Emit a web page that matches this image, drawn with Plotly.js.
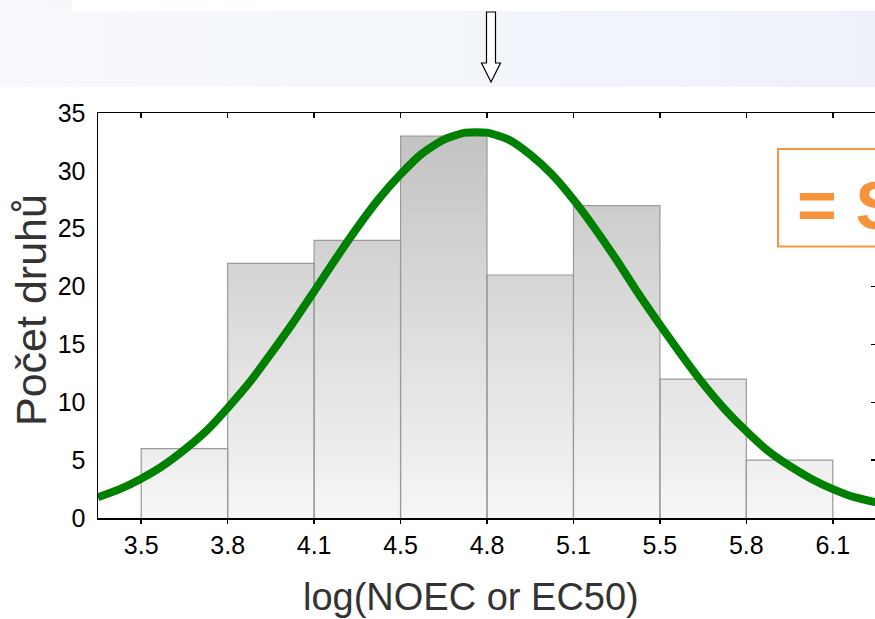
<!DOCTYPE html>
<html>
<head>
<meta charset="utf-8">
<script src="https://cdn.plot.ly/plotly-3.0.1.min.js"></script>
<style>
  html, body { margin: 0; padding: 0; width: 875px; height: 619px; overflow: hidden; background: #ffffff; }
  #bandTop { position: absolute; left: 0; top: 11px; width: 875px; height: 76px;
             background: linear-gradient(to right, #f7f9fd 0%, #f3f6fb 50%, #edf2fa 100%); }
  #bandLeft { position: absolute; left: 0; top: 0; width: 72px; height: 11px;
              background: linear-gradient(to right, #f7f9fd 0%, #f6f8fc 100%); }
  #chart { position: absolute; left: 0; top: 0; width: 880px; height: 619px; }
</style>
</head>
<body>
<div id="bandTop"></div>
<div id="bandLeft"></div>
<div id="chart"></div>
<script>
// ---- data ----
const binEdges = [3.5, 3.8333, 4.1667, 4.5, 4.8333, 5.1667, 5.5, 5.8333, 6.1667];
const counts = [6, 22, 24, 33, 21, 27, 12, 5];
const tickLabels = ["3.5", "3.8", "4.1", "4.5", "4.8", "5.1", "5.5", "5.8", "6.1"];
const yTicks = [0, 5, 10, 15, 20, 25, 30, 35];
// fitted normal curve
const curveX = [3.333, 3.417, 3.5, 3.583, 3.667, 3.75, 3.833, 3.917, 4.0, 4.083, 4.167, 4.25,
                4.333, 4.417, 4.5, 4.583, 4.667, 4.75, 4.833, 4.917, 5.0, 5.083, 5.167, 5.25,
                5.333, 5.417, 5.5, 5.583, 5.667, 5.75, 5.833, 5.917, 6.0, 6.083, 6.167, 6.25, 6.333];
const curveY = [1.8, 2.5, 3.4, 4.5, 5.9, 7.5, 9.5, 11.7, 14.2, 16.8, 19.6, 22.4,
                25.1, 27.6, 29.7, 31.5, 32.7, 33.3, 33.3, 32.7, 31.4, 29.7, 27.5, 25.0,
                22.3, 19.4, 16.7, 14.1, 11.6, 9.4, 7.5, 5.8, 4.5, 3.4, 2.5, 1.8, 1.35];
const xTitle = "log(NOEC or EC50)";
const yTitle = "Počet druhů";
const boxText = "= S";

// ---- derived structures ----
const stepX = [binEdges[0]], stepY = [0];
counts.forEach((c, i) => { stepX.push(binEdges[i], binEdges[i + 1]); stepY.push(c, c); });
stepX.push(binEdges[binEdges.length - 1]); stepY.push(0);
const outX = [], outY = [];
counts.forEach((c, i) => {
  outX.push(binEdges[i], binEdges[i], binEdges[i + 1], binEdges[i + 1], null);
  outY.push(0, c, c, 0, null);
});

const FONT = "Liberation Sans, Arial, Helvetica, sans-serif";

const traces = [
  { // gradient fill of the histogram
    type: "scatter", mode: "lines", x: stepX, y: stepY,
    fill: "toself", line: { width: 0, color: "rgba(0,0,0,0)" },
    fillgradient: { type: "vertical", start: 0, stop: 35,
      colorscale: [[0, "#f6f6f6"], [1, "#c0c0c0"]] },
    hoverinfo: "skip", showlegend: false
  },
  { // histogram bar outlines
    type: "scatter", mode: "lines", x: outX, y: outY, connectgaps: false,
    line: { color: "#9a9a9a", width: 1.2 }, hoverinfo: "skip", showlegend: false
  },
  { // normal curve
    type: "scatter", mode: "lines", x: curveX, y: curveY,
    line: { color: "#008000", width: 8, shape: "spline", smoothing: 0.6 },
    showlegend: false
  },
  { // invisible trace to activate top/right axes
    type: "scatter", mode: "lines", x: [binEdges[0]], y: [0], xaxis: "x2", yaxis: "y2",
    line: { width: 0 }, hoverinfo: "skip", showlegend: false
  }
];

const ax = 491, shaftHalf = 4.5, headHalf = 9.5;
const L = 98, PW = 778, T = 113, PH = 405;
const px = v => (v - L) / PW;
const py = v => (T + PH - v) / PH;
const arrowPath = [
  "M", px(ax - shaftHalf), py(12),
  "L", px(ax + shaftHalf), py(12),
  "L", px(ax + shaftHalf), py(63),
  "L", px(ax + headHalf), py(63),
  "L", px(ax), py(82),
  "L", px(ax - headHalf), py(63),
  "L", px(ax - shaftHalf), py(63), "Z"
].join(" ");

const layout = {
  width: 880, height: 619,
  margin: { l: L, r: 880 - L - PW, t: T, b: 619 - T - PH },
  paper_bgcolor: "rgba(0,0,0,0)", plot_bgcolor: "#ffffff",
  font: { family: FONT, color: "#000000" },
  xaxis: {
    range: [3.3333, 6.3333], tickvals: binEdges, ticktext: tickLabels,
    showgrid: false, zeroline: false, showline: true, linecolor: "#000", linewidth: 1.5,
    ticks: "outside", ticklen: 4, tickcolor: "#000", tickwidth: 1.5,
    tickfont: { size: 25, color: "#000", family: FONT }
  },
  xaxis2: {
    overlaying: "x", side: "top", matches: "x", range: [3.3333, 6.3333], tickvals: binEdges,
    showticklabels: false, showgrid: false, zeroline: false, showline: true, linecolor: "#000", linewidth: 1.5,
    ticks: "inside", ticklen: 5, tickcolor: "#000", tickwidth: 1.5
  },
  yaxis: {
    range: [0, 35], tickvals: yTicks, showgrid: false, zeroline: false,
    showline: true, linecolor: "#000", linewidth: 1.5, ticks: "", ticklabelstandoff: 6,
    tickfont: { size: 25, color: "#000", family: FONT }
  },
  yaxis2: {
    overlaying: "y", side: "right", matches: "y", range: [0, 35], tickvals: yTicks,
    showticklabels: false, showgrid: false, zeroline: false, showline: true, linecolor: "#000", linewidth: 1.5,
    ticks: "inside", ticklen: 5, tickcolor: "#000", tickwidth: 1.5
  },
  shapes: [
    { type: "path", xref: "paper", yref: "paper", path: arrowPath,
      line: { color: "#000", width: 1.2 }, fillcolor: "#ffffff", layer: "above" },
    { type: "rect", xref: "paper", yref: "paper",
      x0: px(778), x1: px(930), y0: py(246.5), y1: py(149),
      line: { color: "#f7963f", width: 2 }, fillcolor: "#ffffff", layer: "above" }
  ],
  annotations: [
    { text: "<b>" + boxText + "</b>", xref: "paper", yref: "paper",
      x: px(795), y: py(205), xanchor: "left", yanchor: "middle", showarrow: false,
      font: { size: 68, color: "#f7923a", family: FONT } },
    { text: xTitle, xref: "paper", yref: "paper", x: px(471), y: py(597),
      xanchor: "center", yanchor: "middle", showarrow: false,
      font: { size: 38, color: "#333333", family: FONT } },
    { text: yTitle, xref: "paper", yref: "paper", x: px(31), y: py(310), textangle: -90,
      xanchor: "center", yanchor: "middle", showarrow: false,
      font: { size: 43, color: "#333333", family: FONT } }
  ]
};

Plotly.newPlot("chart", traces, layout, { displayModeBar: false, staticPlot: true });
</script>
</body>
</html>
